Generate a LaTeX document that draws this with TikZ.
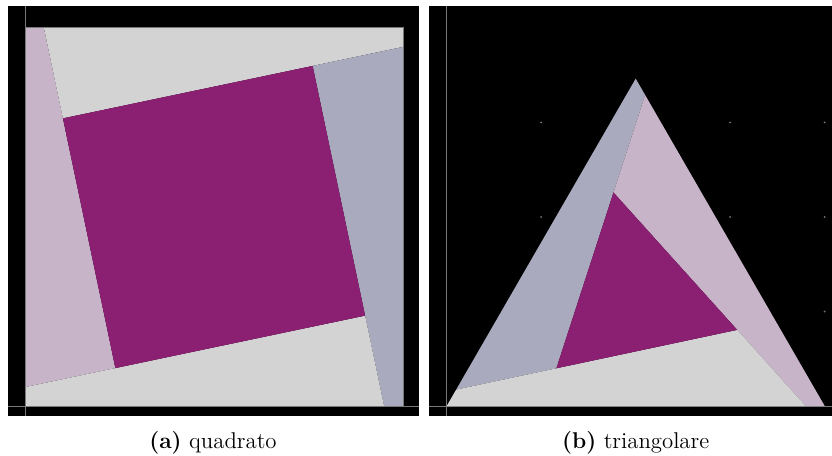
\documentclass[tikz,border=0pt]{standalone}
\usepackage{tikz}

\definecolor{lilla}{RGB}{200,180,201}
\definecolor{grigioblu}{RGB}{169,170,190}
\definecolor{grigio}{RGB}{211,211,211}
\definecolor{viola}{RGB}{139,31,114}
\definecolor{assegrigio}{RGB}{120,120,120}

\begin{document}
\begin{tikzpicture}[
			x=47.25pt, y=47.25pt,
			sfondo/.style={fill=black},
			asse/.style={draw=assegrigio,line width=0.5pt},
			punto/.style={fill=assegrigio},
			didascalia/.style={font=\fontsize{11.4}{13.5}\selectfont,inner sep=0pt},
			]
			
			\useasboundingbox (-0.2646,-0.5291) rectangle (8.5397,4.2963);
			
			% (a) quadrato
			\fill[sfondo] (-0.18,-0.111) rectangle (4.164,4.233);
			\foreach \i in {1,...,4}
				\foreach \j in {1,...,3}
					\fill[punto] (\i,\j) circle (0.5pt);
			\draw[asse] (0,-0.111) -- (0,4.233);
			\draw[asse] (-0.18,0) -- (4.164,0);
			
			\coordinate (pt) at (0.2,4);
			\coordinate (pr) at (4,3.8);
			\coordinate (pb) at (3.8,0);
			\coordinate (pl) at (0,0.2);
			\coordinate (qtl) at (0.4008,3.044);
			\coordinate (qtr) at (3.044,3.5992);
			\coordinate (qbr) at (3.5992,0.956);
			\coordinate (qbl) at (0.956,0.4008);
			
			\fill[lilla] (0,4) -- (pt) -- (qbl) -- (pl) -- cycle;
			\fill[grigio] (pt) -- (4,4) -- (pr) -- (qtl) -- cycle;
			\fill[grigioblu] (pr) -- (4,0) -- (pb) -- (qtr) -- cycle;
			\fill[grigio] (pb) -- (0,0) -- (pl) -- (qbr) -- cycle;
			\fill[viola] (qtl) -- (qtr) -- (qbr) -- (qbl) -- cycle;
			\draw[asse] (0,0) rectangle (4,4);
			
			\node[didascalia] (capa) at (1.989,-0.385) {\textbf{(a)} quadrato};
			
			% (b) triangolare
			\begin{scope}[shift={(4.4624,0)}]
				\fill[sfondo] (-0.1873,-0.111) rectangle (4.0773,4.233);
				\foreach \i in {1,...,4}
					\foreach \j in {1,...,3}
						\fill[punto] (\i,\j) circle (0.5pt);
				\draw[asse] (0,-0.111) -- (0,4.233);
				\draw[asse] (-0.1873,0) -- (4.0773,0);
				
				\coordinate (o) at (0,0);
				\coordinate (b) at (4,0);
				\coordinate (a) at (2,3.4641);
				\coordinate (p1) at (2.1,3.2909);
				\coordinate (q2) at (3.8,0);
				\coordinate (q3) at (0.1,0.1732);
				\coordinate (ta) at (1.7650,2.2601);
				\coordinate (tb) at (3.0748,0.8055);
				\coordinate (tc) at (1.1602,0.3985);
				
				\fill[grigioblu] (q3) -- (a) -- (p1) -- (tc) -- cycle;
				\fill[lilla] (p1) -- (b) -- (q2) -- (ta) -- cycle;
				\fill[grigio] (o) -- (q3) -- (tb) -- (q2) -- cycle;
				\fill[viola] (ta) -- (tb) -- (tc) -- cycle;
				
				\node[didascalia] (capb) at (2.0,-0.385) {\textbf{(b)} triangolare};
			\end{scope}
			
		\end{tikzpicture}
\end{document}
